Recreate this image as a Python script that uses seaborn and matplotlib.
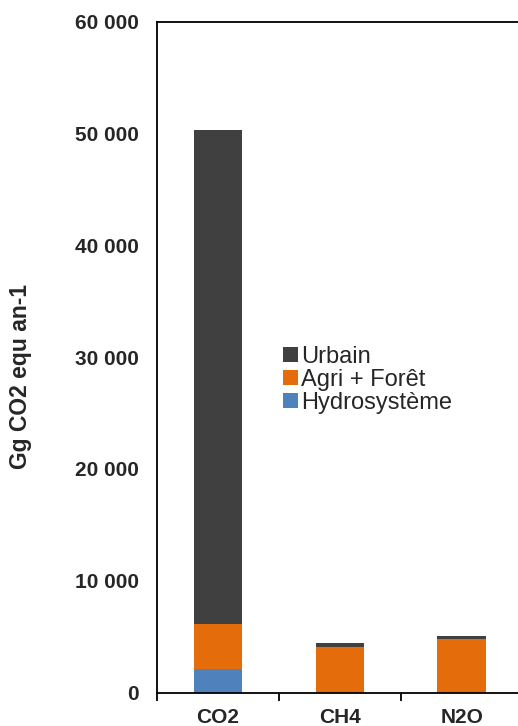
import matplotlib
matplotlib.use("Agg")
import matplotlib.pyplot as plt
import matplotlib.ticker as mticker
import seaborn as sns
import numpy as np

# donnees (Gg CO2 equ an-1)
gaz = ["CO2", "CH4", "N2O"]
hydrosysteme = [2100, 0, 0]
agri_foret = [4050, 4120, 4780]
urbain = [44200, 360, 290]

couleurs = {"Urbain": "#404040", "Agri + Forêt": "#E46C0A", "Hydrosystème": "#4F81BD"}

sns.set_style("white")
plt.rcParams['font.family'] = ['Liberation Sans', 'DejaVu Sans']

fig = plt.figure(figsize=(5.18, 7.26), dpi=100)
ax = fig.add_axes([0.303, 0.046, 0.697, 0.924])

bas1 = np.array(hydrosysteme)
bas2 = bas1 + np.array(agri_foret)

sns.barplot(x=gaz, y=hydrosysteme, color=couleurs["Hydrosystème"], width=0.4,
            saturation=1, linewidth=0, ax=ax, label="Hydrosystème")
sns.barplot(x=gaz, y=agri_foret, bottom=bas1, color=couleurs["Agri + Forêt"], width=0.4,
            saturation=1, linewidth=0, ax=ax, label="Agri + Forêt")
sns.barplot(x=gaz, y=urbain, bottom=bas2, color=couleurs["Urbain"], width=0.4,
            saturation=1, linewidth=0, ax=ax, label="Urbain")

ax.set_ylim(0, 60000)
ax.set_xlim(-0.5, 2.46)
ax.yaxis.set_major_locator(mticker.MultipleLocator(10000))
ax.yaxis.set_major_formatter(mticker.FuncFormatter(lambda v, p: f"{int(v):,}".replace(",", " ")))

# ticks entre les categories (style Excel)
ax.set_xticks([0, 1, 2])
ax.set_xticks([-0.5, 0.5, 1.5], minor=True)
ax.tick_params(axis="x", which="major", length=0, pad=11)
ax.tick_params(axis="x", which="minor", length=6, width=1.3, direction="out", color="black")
ax.tick_params(axis="y", length=6, width=1.3, direction="out", color="black", pad=7)
ax.xaxis.set_tick_params(bottom=True, which="minor")

for lab in ax.get_xticklabels() + ax.get_yticklabels():
    lab.set_fontweight("bold")
    lab.set_fontsize(15)

for s in ["left", "bottom", "top"]:
    ax.spines[s].set_visible(True)
    ax.spines[s].set_color("black")
    ax.spines[s].set_linewidth(1.3)
ax.spines["right"].set_visible(False)

ax.set_xlabel("")
ax.set_ylabel("")
fig.text(0.04, 0.481, "Gg CO2 equ an-1", rotation=90, fontsize=16.5,
         fontweight="bold", ha="center", va="center")

handles, labels = ax.get_legend_handles_labels()
ax.legend(handles[::-1], labels[::-1], loc="upper left", bbox_to_anchor=(0.529, 0.537),
          bbox_transform=fig.transFigure, frameon=False, fontsize=17,
          handlelength=0.6, handleheight=0.6, handletextpad=0.15,
          labelspacing=0.05, borderaxespad=0)

fig.savefig("out.png", dpi=100)
